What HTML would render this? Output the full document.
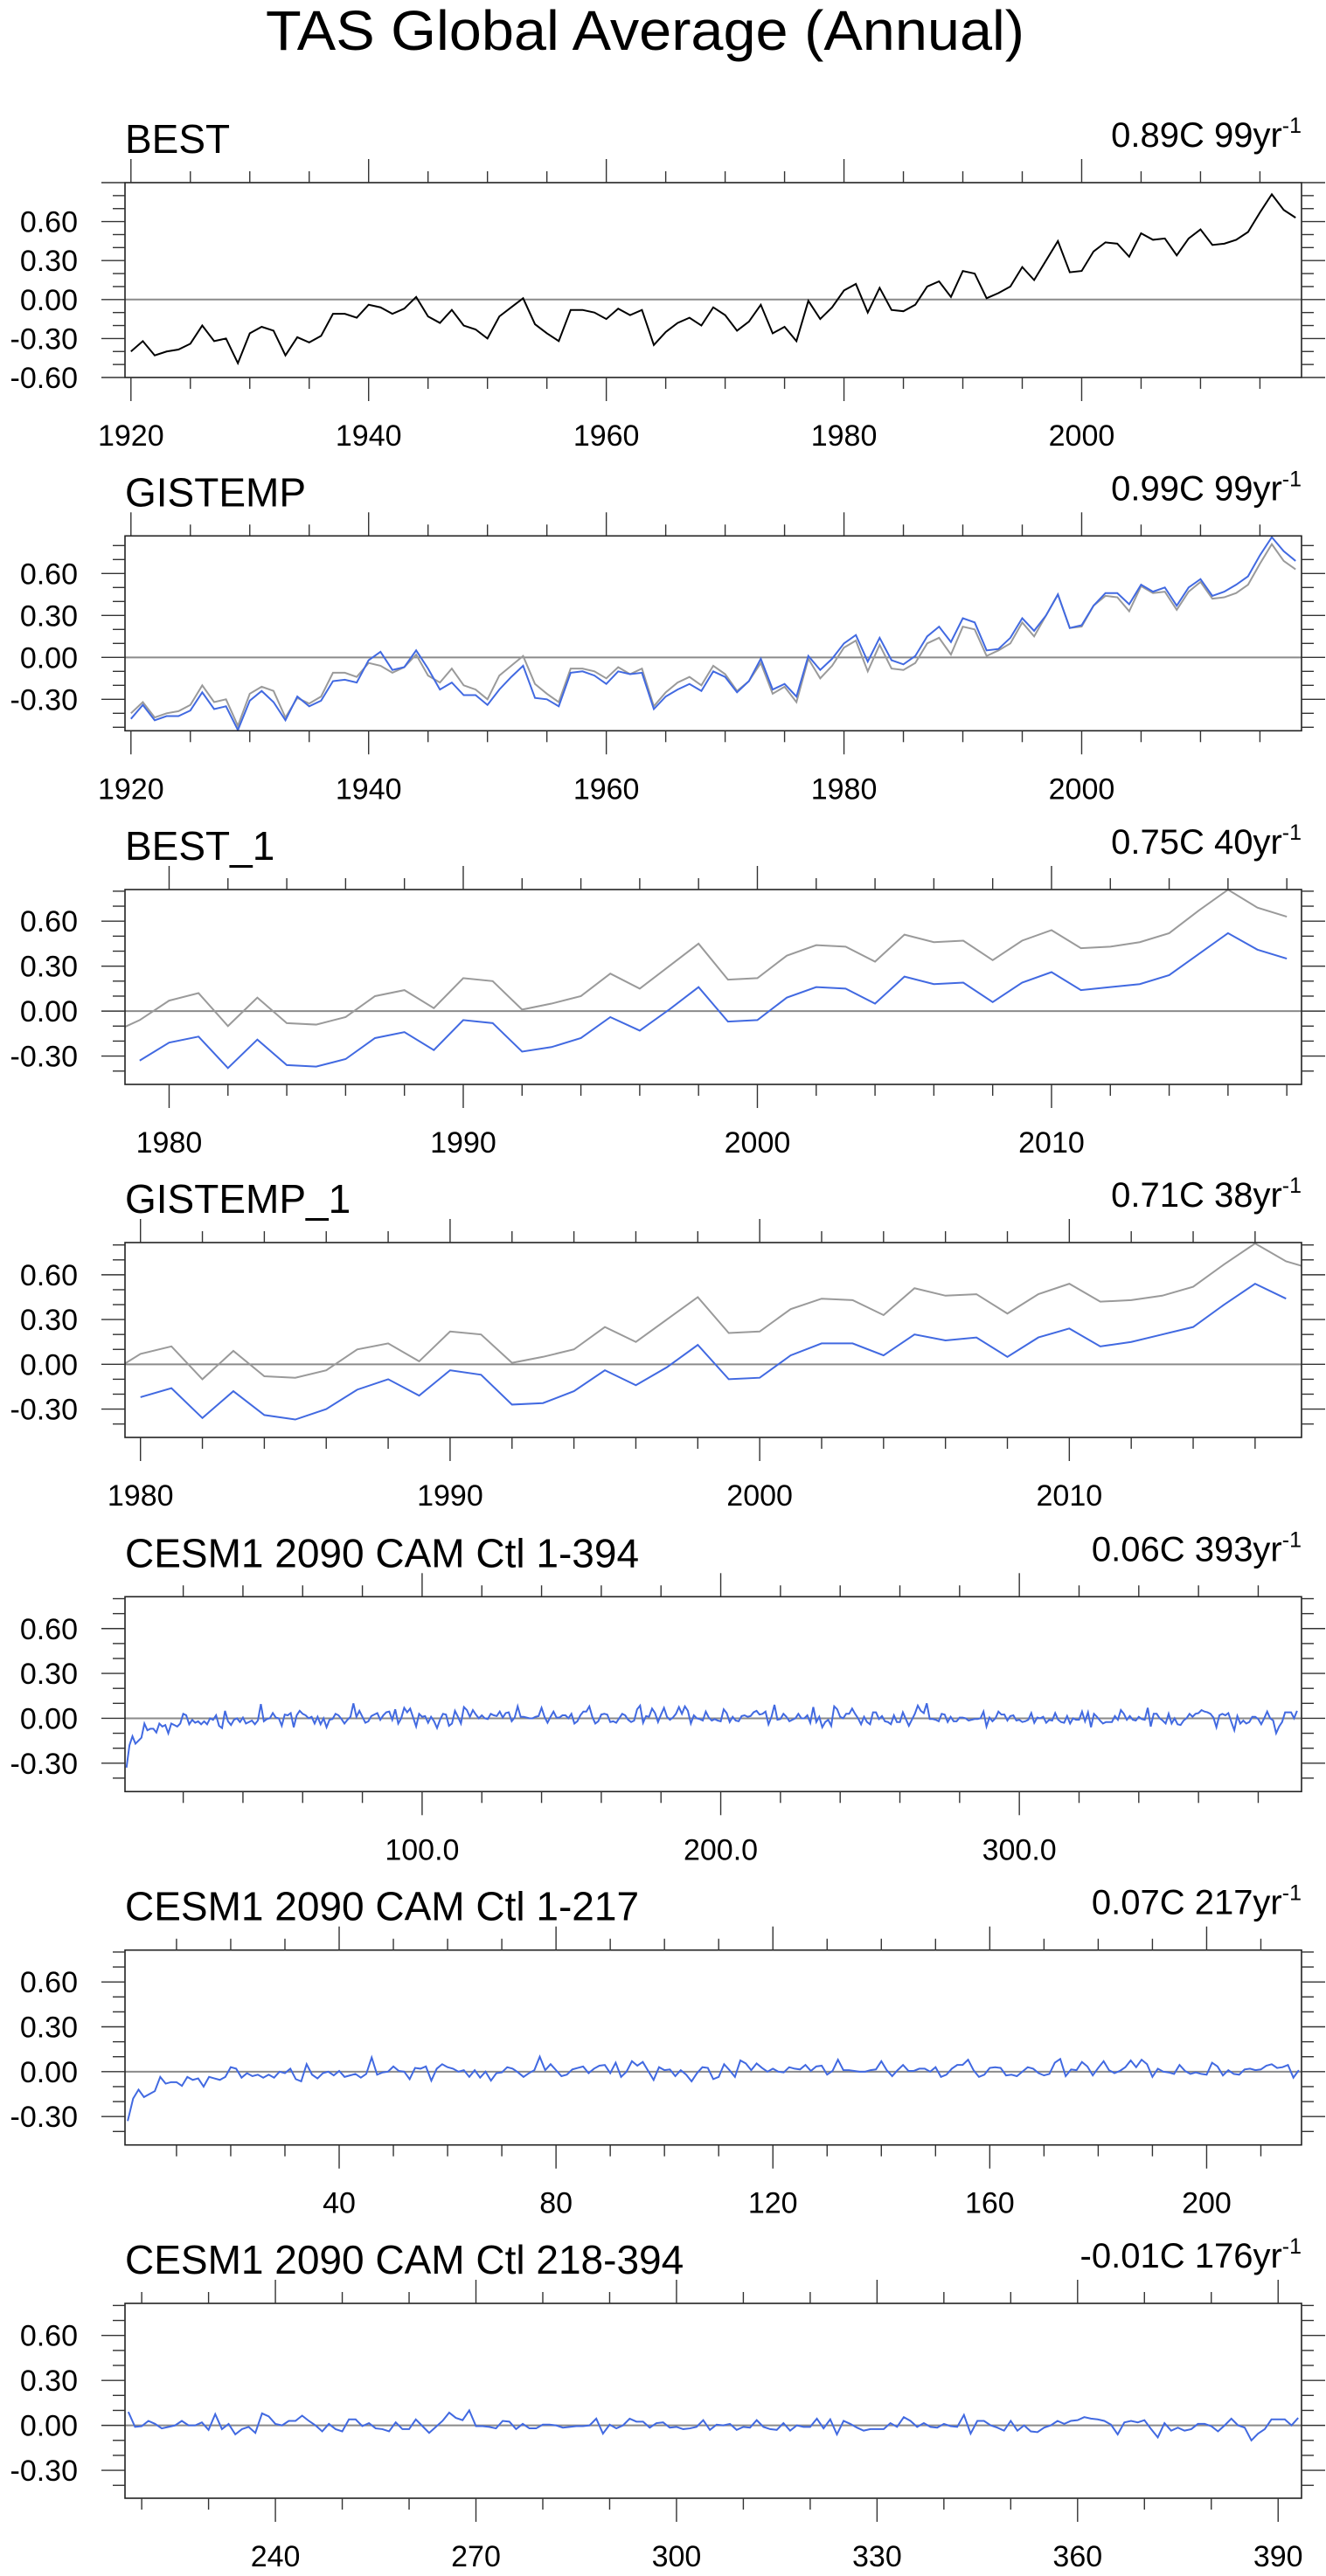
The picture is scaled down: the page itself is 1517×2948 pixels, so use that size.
<!DOCTYPE html>
<html><head><meta charset="utf-8"><title>TAS Global Average (Annual)</title>
<style>
html,body{margin:0;padding:0;background:#fff;}
svg{display:block;font-family:"Liberation Sans",Arial,sans-serif;}
</style></head>
<body>
<svg id="chart" xmlns="http://www.w3.org/2000/svg" width="1517" height="2948" viewBox="0 0 1517 2948">
<rect x="0" y="0" width="1517" height="2948" fill="#fff"/>
<text x="304" y="57" font-size="64" textLength="868" lengthAdjust="spacingAndGlyphs" fill="#000">TAS Global Average (Annual)</text>
</svg>
<script>
// ---- data ----
const bestStart = 1920;
const bestVals = [
-0.40,-0.32,-0.43,-0.40,-0.385,-0.34,-0.20,-0.32,-0.30,-0.49,
-0.26,-0.21,-0.24,-0.43,-0.29,-0.33,-0.28,-0.11,-0.11,-0.14,
-0.04,-0.06,-0.11,-0.07,0.02,-0.13,-0.18,-0.08,-0.20,-0.23,
-0.30,-0.13,-0.06,0.01,-0.19,-0.26,-0.32,-0.08,-0.08,-0.10,
-0.15,-0.07,-0.12,-0.08,-0.35,-0.25,-0.18,-0.14,-0.20,-0.06,
-0.12,-0.24,-0.17,-0.04,-0.26,-0.21,-0.32,-0.01,-0.15,-0.06,
0.07,0.12,-0.10,0.09,-0.08,-0.09,-0.04,0.10,0.14,0.02,
0.22,0.20,0.01,0.05,0.10,0.25,0.15,0.30,0.45,0.21,
0.22,0.37,0.44,0.43,0.33,0.51,0.46,0.47,0.34,0.47,
0.54,0.42,0.43,0.46,0.52,0.67,0.81,0.69,0.63];
const gisStart = 1920;
const gisVals = [
-0.44,-0.34,-0.45,-0.42,-0.42,-0.38,-0.25,-0.37,-0.35,-0.52,
-0.31,-0.24,-0.32,-0.45,-0.28,-0.35,-0.31,-0.17,-0.16,-0.18,
-0.02,0.04,-0.09,-0.07,0.05,-0.08,-0.23,-0.18,-0.27,-0.27,
-0.34,-0.23,-0.14,-0.06,-0.29,-0.30,-0.35,-0.11,-0.10,-0.13,
-0.19,-0.10,-0.12,-0.11,-0.37,-0.28,-0.23,-0.19,-0.24,-0.10,
-0.14,-0.25,-0.17,-0.01,-0.23,-0.19,-0.28,0.01,-0.09,-0.01,
0.10,0.16,-0.03,0.14,-0.02,-0.05,0.01,0.15,0.22,0.11,
0.28,0.25,0.05,0.06,0.14,0.28,0.19,0.30,0.45,0.21,
0.23,0.37,0.46,0.46,0.38,0.52,0.47,0.50,0.37,0.50,
0.56,0.44,0.47,0.52,0.58,0.73,0.86,0.76,0.69];
const best1Start = 1979;
const best1Vals = [
-0.33,-0.21,-0.17,-0.38,-0.19,-0.36,-0.37,-0.32,-0.18,-0.14,
-0.26,-0.06,-0.08,-0.27,-0.24,-0.18,-0.04,-0.13,0.01,0.16,
-0.07,-0.06,0.09,0.16,0.15,0.05,0.23,0.18,0.19,0.06,
0.19,0.26,0.14,0.16,0.18,0.24,0.38,0.52,0.41,0.35];
const gis1Start = 1980;
const gis1Vals = [
-0.22,-0.16,-0.36,-0.18,-0.34,-0.37,-0.30,-0.17,-0.10,-0.21,
-0.04,-0.07,-0.27,-0.26,-0.18,-0.04,-0.14,-0.02,0.13,-0.10,
-0.09,0.06,0.14,0.14,0.06,0.20,0.16,0.18,0.05,0.18,
0.24,0.12,0.15,0.20,0.25,0.40,0.54,0.44];
const cesmStart = 1;
const cesmVals = [
-0.33,-0.18,-0.12,-0.17,-0.15,-0.13,-0.035,-0.08,-0.07,-0.07,
-0.095,-0.035,-0.055,-0.045,-0.10,-0.035,-0.045,-0.055,-0.035,0.03,
0.02,-0.04,-0.01,-0.03,-0.02,-0.04,-0.02,-0.04,0.0,-0.01,
0.02,-0.05,-0.065,0.05,-0.02,-0.045,-0.01,0.0,-0.025,0.005,
-0.035,-0.025,-0.015,-0.04,-0.015,0.095,-0.02,-0.005,0.0,0.035,
0.005,0.0,-0.05,0.025,0.02,0.035,-0.06,0.02,0.05,0.03,
0.02,0.0,0.01,-0.035,0.01,-0.04,0.0,-0.06,-0.01,-0.005,
0.03,0.02,-0.005,-0.035,-0.01,0.01,0.10,0.01,0.05,0.01,
-0.03,-0.02,0.015,0.025,0.035,-0.01,0.02,0.04,0.045,-0.01,
0.06,-0.035,0.0,0.07,0.04,0.065,0.005,-0.055,0.03,0.01,
0.015,-0.03,0.01,-0.02,-0.065,-0.01,0.03,
0.025,-0.05,-0.035,0.05,0.01,-0.035,0.075,0.055,0.01,0.055,
0.025,0.0,0.02,0.0,-0.005,0.03,0.02,0.015,0.045,0.005,
0.035,0.04,-0.02,0.005,0.08,0.01,0.01,0.005,0.0,0.0,
0.01,0.015,0.07,0.01,-0.03,0.01,0.045,0.005,0.005,0.02,
0.02,0.0,0.03,-0.035,-0.02,0.02,0.045,0.045,0.08,0.01,
-0.035,-0.02,0.025,0.03,0.025,-0.025,-0.02,-0.03,0.0,0.03,
0.02,-0.01,-0.025,-0.015,0.06,0.085,-0.03,0.015,0.01,0.065,
0.035,-0.025,0.025,0.07,0.01,-0.01,0.005,0.03,0.075,0.03,
0.08,0.05,-0.035,0.02,0.0,-0.005,-0.015,0.045,0.005,-0.015,
-0.005,-0.015,-0.02,0.06,0.035,-0.025,0.01,-0.015,-0.02,0.015,
0.02,0.01,0.015,0.04,0.05,0.025,0.03,0.045,-0.04,
0.01,0.09,-0.01,-0.005,0.03,0.01,-0.02,-0.01,0.0,0.03,
0.0,0.0,0.02,-0.03,0.075,-0.025,0.01,-0.06,-0.025,-0.01,
-0.05,0.08,0.06,0.01,0.0,0.03,0.03,0.065,0.03,0.0,
-0.04,0.01,-0.025,-0.04,0.04,0.04,-0.005,0.015,-0.02,-0.025,
-0.04,0.02,-0.025,-0.025,0.04,-0.005,-0.05,-0.01,0.03,0.085,
0.05,0.035,0.10,-0.005,-0.005,-0.01,-0.02,0.03,0.025,-0.025,
0.01,-0.02,-0.02,0.005,0.005,0.0,-0.015,-0.01,-0.005,-0.005,
0.0,0.045,-0.055,0.005,-0.02,0.0,0.045,0.025,0.025,-0.015,
0.015,0.02,-0.015,-0.01,-0.025,-0.02,-0.01,0.035,-0.03,0.005,
0.0,0.01,-0.03,-0.01,-0.015,0.035,-0.01,-0.025,-0.03,0.015,
-0.035,0.0,-0.01,-0.01,0.045,-0.02,0.04,-0.06,0.03,0.01,
-0.015,-0.035,-0.025,-0.025,-0.025,0.015,-0.01,0.055,0.03,-0.01,
0.015,-0.01,-0.015,0.01,-0.005,-0.01,0.07,-0.055,0.03,0.03,
0.0,-0.015,-0.035,0.03,-0.035,0.0,-0.04,-0.045,-0.015,0.0,
0.03,0.01,0.03,0.035,0.055,0.045,0.04,0.03,0.005,-0.06,
0.02,0.03,0.02,0.035,-0.025,-0.08,0.015,-0.035,-0.015,-0.035,
-0.025,0.01,0.01,-0.005,-0.04,0.0,0.045,0.0,-0.015,-0.1,
-0.055,-0.025,0.04,0.04,0.04,0.0,0.05];
const yTickVals = [-0.6,-0.3,0.0,0.3,0.6];
const yTickLabels = ["-0.60","-0.30","0.00","0.30","0.60"];

const BLUE = "#4169e1", GRAY = "#9a9a9a", BLACK = "#000";
const svg = document.getElementById('chart');
const NS = "http://www.w3.org/2000/svg";
function mk(tag, attrs, parent){
  const e = document.createElementNS(NS, tag);
  for (const k in attrs) e.setAttribute(k, attrs[k]);
  (parent||svg).appendChild(e);
  return e;
}
const L = 143, R = 1489, H = 223;

function panel(cfg, idx){
  const g = mk('g', {});
  
  
  const T = cfg.top, B = cfg.top + H;
  const xs = v => L + (v - cfg.x0) / (cfg.x1 - cfg.x0) * (R - L);
  const ys = v => B - (v - cfg.y0) / (cfg.y1 - cfg.y0) * H;

  // titles
  const t = mk('text', {x: L, y: T - 34, 'font-size': 46, fill: '#000'}, g);
  t.textContent = cfg.title;
  
  
  const rt = mk('text', {x: R, y: T - 41, 'font-size': 40, 'text-anchor': 'end', fill: '#000'}, g);
  
  
  const ts1 = mk('tspan', {}, rt); ts1.textContent = cfg.trend;
  const ts2 = mk('tspan', {dy: -16, 'font-size': 25}, rt); ts2.textContent = '-1';

  // clip
  const cid = 'clip' + idx;
  const cp = mk('clipPath', {id: cid}, g);
  mk('rect', {x: L, y: T, width: R - L, height: H}, cp);

  // zero line
  const z = mk('line', {x1: L, x2: R, y1: ys(0), y2: ys(0), stroke: '#8a8a8a', 'stroke-width': 2}, g);
  
  

  // series
  cfg.series.forEach(s => {
    const pts = s.vals.map((v, i) => xs(s.start + i).toFixed(2) + ',' + ys(v).toFixed(2)).join(' ');
    const pl = mk('polyline', {points: pts, fill: 'none', stroke: s.color, 'stroke-width': 2, 'stroke-linejoin': 'miter', 'clip-path': 'url(#' + cid + ')'}, g);
    
    
  });

  // frame
  const fr = mk('rect', {x: L, y: T, width: R - L, height: H, fill: 'none', stroke: '#222', 'stroke-width': 1.6}, g);
  
  

  // y ticks
  for (let k = Math.ceil(cfg.y0 * 10 - 1e-6); k <= Math.floor(cfg.y1 * 10 + 1e-6); k++){
    const v = k / 10, y = ys(v), major = (k % 3 === 0);
    const len = major ? 27 : 14;
    mk('line', {x1: L - len, x2: L, y1: y, y2: y, stroke: '#333', 'stroke-width': 1.4}, g);
    mk('line', {x1: R, x2: R + len, y1: y, y2: y, stroke: '#333', 'stroke-width': 1.4}, g);
  }
  yTickVals.forEach((v, i) => {
    if (v < cfg.y0 - 1e-6 || v > cfg.y1 + 1e-6) return;
    const lb = mk('text', {x: 89, y: ys(v) + 12, 'font-size': 34, 'text-anchor': 'end', fill: '#000'}, g);
    lb.textContent = yTickLabels[i];
    
    
  });

  // x ticks
  for (let v = Math.ceil(cfg.x0 / cfg.minor) * cfg.minor; v <= cfg.x1; v += cfg.minor){
    const x = xs(v), major = (v % cfg.major === 0);
    const len = major ? 27 : 13;
    mk('line', {x1: x, x2: x, y1: T - len, y2: T, stroke: '#333', 'stroke-width': 1.4}, g);
    mk('line', {x1: x, x2: x, y1: B, y2: B + len, stroke: '#333', 'stroke-width': 1.4}, g);
    if (major){
      const lb = mk('text', {x: x, y: B + 78, 'font-size': 34, 'text-anchor': 'middle', fill: '#000'}, g);
      lb.textContent = cfg.fmt ? cfg.fmt(v) : String(v);
      
      
    }
  }
}

const panels = [
 {name:'best', title:'BEST', trend:'0.89C 99yr', top:209, x0:1919.5, x1:2018.5, y0:-0.6, y1:0.9, major:20, minor:5,
  series:[{name:'best-line', start:bestStart, vals:bestVals, color:BLACK}]},
 {name:'gistemp', title:'GISTEMP', trend:'0.99C 99yr', top:613.3, x0:1919.5, x1:2018.5, y0:-0.525, y1:0.869, major:20, minor:5,
  series:[{name:'best-reference-line', start:bestStart, vals:bestVals, color:GRAY},
          {name:'gistemp-line', start:gisStart, vals:gisVals, color:BLUE}]},
 {name:'best-1', title:'BEST_1', trend:'0.75C 40yr', top:1018, x0:1978.5, x1:2018.5, y0:-0.489, y1:0.811, major:10, minor:2,
  series:[{name:'best-reference-line', start:bestStart, vals:bestVals, color:GRAY},
          {name:'best-1-line', start:best1Start, vals:best1Vals, color:BLUE}]},
 {name:'gistemp-1', title:'GISTEMP_1', trend:'0.71C 38yr', top:1422, x0:1979.5, x1:2017.5, y0:-0.49, y1:0.816, major:10, minor:2,
  series:[{name:'best-reference-line', start:bestStart, vals:bestVals, color:GRAY},
          {name:'gistemp-1-line', start:gis1Start, vals:gis1Vals, color:BLUE}]},
 {name:'cesm-1-394', title:'CESM1 2090 CAM Ctl 1-394', trend:'0.06C 393yr', top:1827.3, x0:0.5, x1:394.5, y0:-0.49, y1:0.813, major:100, minor:20, fmt:v=>v.toFixed(1),
  series:[{name:'cesm-line', start:cesmStart, vals:cesmVals, color:BLUE}]},
 {name:'cesm-1-217', title:'CESM1 2090 CAM Ctl 1-217', trend:'0.07C 217yr', top:2231.7, x0:0.5, x1:217.5, y0:-0.49, y1:0.813, major:40, minor:10,
  series:[{name:'cesm-line', start:cesmStart, vals:cesmVals.slice(0,217), color:BLUE}]},
 {name:'cesm-218-394', title:'CESM1 2090 CAM Ctl 218-394', trend:'-0.01C 176yr', top:2636, x0:217.5, x1:393.5, y0:-0.486, y1:0.814, major:30, minor:10,
  series:[{name:'cesm-line', start:218, vals:cesmVals.slice(217), color:BLUE}]}
];
panels.forEach((p, i) => panel(p, i));
</script>
</body></html>
